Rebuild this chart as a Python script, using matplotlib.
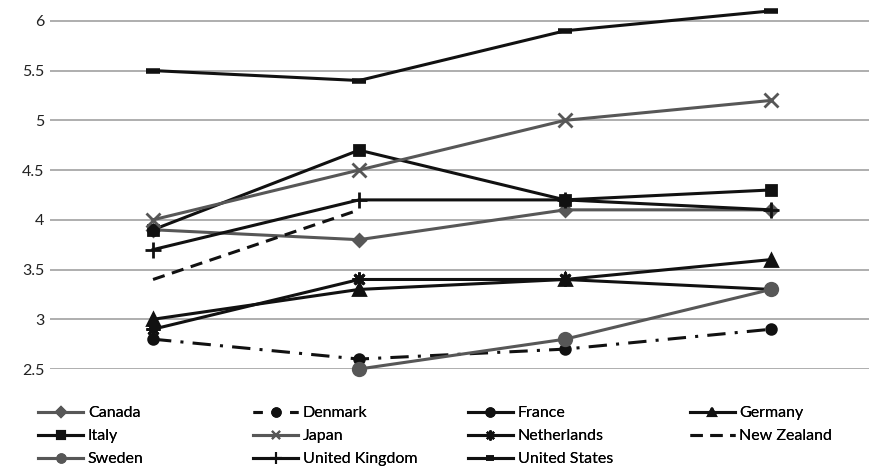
import numpy as np
import matplotlib
matplotlib.use('Agg')
import matplotlib.pyplot as plt
from matplotlib.lines import Line2D

nan = np.nan

periods = ['P1', 'P2', 'P3', 'P4']
y_ticks = [2.5, 3, 3.5, 4, 4.5, 5, 5.5, 6]
y_tick_labels = ['2.5', '3', '3.5', '4', '4.5', '5', '5.5', '6']

canada = [3.9, 3.8, 4.1, 4.1]
denmark = [2.8, 2.6, 2.7, 2.9]
france = [3.9, nan, 4.2, nan]
germany = [3.0, 3.3, 3.4, 3.6]
italy = [3.9, 4.7, 4.2, 4.3]
japan = [4.0, 4.5, 5.0, 5.2]
netherlands = [2.9, 3.4, 3.4, 3.3]
new_zealand = [3.4, 4.1, nan, nan]
sweden = [nan, 2.5, 2.8, 3.3]
united_kingdom = [3.7, 4.2, 4.2, 4.1]
united_states = [5.5, 5.4, 5.9, 6.1]

BLACK = '#111111'
GRAY = '#575757'

plt.rcParams['font.family'] = ['Lato', 'DejaVu Sans']

fig = plt.figure(figsize=(8.7, 4.68), dpi=100)
ax = fig.add_axes([0.0575, 0.2115, 0.9425, 0.7865])

x = np.arange(len(periods))

# (label, values, color, marker, markersize, legend markersize, linestyle)
series = [
    ('Canada', canada, GRAY, 'D', 6, 5, '-'),
    ('Denmark', denmark, BLACK, 'o', 7, 6, (0, (6, 3, 1, 3))),
    ('France', france, BLACK, 'o', 7, 6, '-'),
    ('Germany', germany, BLACK, '^', 8, 6, '-'),
    ('Italy', italy, BLACK, 's', 7, 6, '-'),
    ('Japan', japan, GRAY, 'x', 10, 6, '-'),
    ('Netherlands', netherlands, BLACK, (8, 2, 0), 10, 7, '-'),
    ('New Zealand', new_zealand, BLACK, 'None', 0, 0, (0, (4, 2.5))),
    ('Sweden', sweden, GRAY, 'o', 9, 6, '-'),
    ('United Kingdom', united_kingdom, BLACK, '+', 11, 8, '-'),
    ('United States', united_states, BLACK, '_', 10, 6, '-'),
]

handles = {}
for label, vals, color, marker, ms, lms, ls in series:
    mew = 4 if marker == '_' else 2
    ax.plot(x, vals, color=color, marker=marker, markersize=ms,
            markeredgewidth=mew, linestyle=ls, linewidth=2.2,
            clip_on=False, zorder=3)
    legend_ls = (0, (3, 3)) if label == 'Denmark' else ls
    handles[label] = Line2D([], [], color=color, marker=marker, markersize=lms,
                            markeredgewidth=mew if marker == '_' else 1.5,
                            linestyle=legend_ls, linewidth=2.2)

ax.set_xlim(-0.5, 3.48)
ax.set_ylim(2.5, 6.2)
ax.set_yticks(y_ticks)
ax.set_yticklabels(y_tick_labels, fontsize=11.5, color='#222222')
ax.set_xticks([])
ax.tick_params(axis='y', length=0, pad=4)
ax.grid(axis='y', color='#a8a8a8', linewidth=1.3)
ax.set_axisbelow(True)
for s in ax.spines.values():
    s.set_visible(False)

# one legend per column so the columns sit at fixed places
columns = [['Canada', 'Italy', 'Sweden'],
           ['Denmark', 'Japan', 'United Kingdom'],
           ['France', 'Netherlands', 'United States'],
           ['Germany', 'New Zealand']]
col_x = [0.044, 0.291, 0.538, 0.793]
for names, cx in zip(columns, col_x):
    leg = fig.legend([handles[k] for k in names], names, loc='upper left',
                     bbox_to_anchor=(cx, 0.132), frameon=False, fontsize=11.5,
                     handlelength=2.8, handletextpad=0.3, labelspacing=0.55,
                     borderpad=0, borderaxespad=0)
    fig.add_artist(leg)

fig.savefig('out.png', dpi=100)
